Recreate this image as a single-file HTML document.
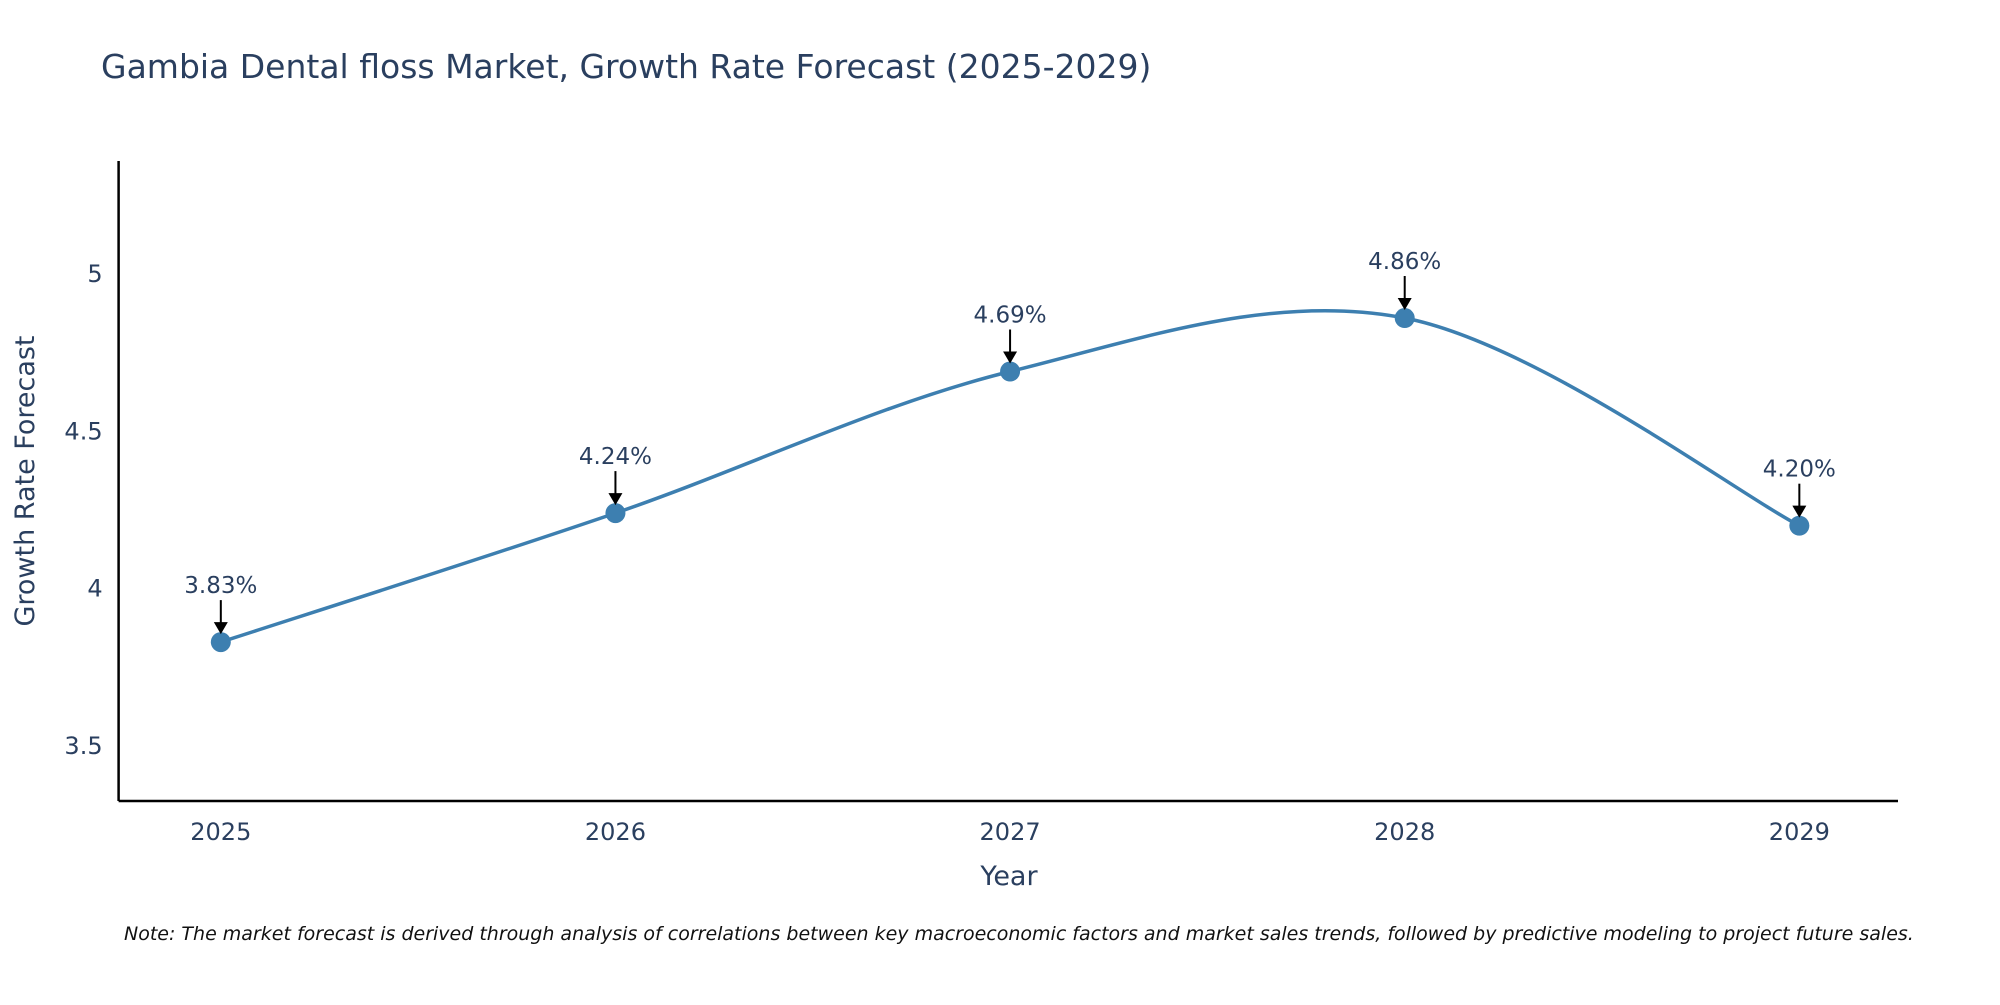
<!DOCTYPE html>
<html><head><meta charset="utf-8"><style>
body{margin:0;background:#fff;}
svg text{font-family:"DejaVu Sans","Liberation Sans",sans-serif;fill:#2a3f5f;}
</style></head><body>
<svg id="chart" width="2000" height="1000">
<text x="101" y="78" font-size="33">Gambia Dental floss Market, Growth Rate Forecast (2025-2029)</text>
<g id="axes"></g>
<g id="series"></g>
<text x="124" y="940" font-size="19" font-style="italic" style="fill:#111">Note: The market forecast is derived through analysis of correlations between key macroeconomic factors and market sales trends, followed by predictive modeling to project future sales.</text>
<text transform="translate(34,481) rotate(-90)" text-anchor="middle" font-size="27">Growth Rate Forecast</text>
<text x="1009" y="885" text-anchor="middle" font-size="27">Year</text>
</svg>
<script>
const years=[2025,2026,2027,2028,2029];
const values=[3.83,4.24,4.69,4.86,4.20];
const labels=["3.83%","4.24%","4.69%","4.86%","4.20%"];
const yTicks=[3.5,4,4.5,5];
const ns="http://www.w3.org/2000/svg";
const L=118.6,R=1898,T=161,B=801;
const x0=2025-0.259,x1=2029.25,y0=3.325,y1=5.359;
const X=v=>L+(v-x0)/(x1-x0)*(R-L);
const Y=v=>B-(v-y0)/(y1-y0)*(B-T);
function mk(tag,attrs,parent){const e=document.createElementNS(ns,tag);for(const k in attrs)e.setAttribute(k,attrs[k]);parent.appendChild(e);return e;}
const ax=document.getElementById('axes'),se=document.getElementById('series');
let a=mk('line',{x1:L,y1:T,x2:L,y2:B,stroke:'#000','stroke-width':2.5},ax);

a=mk('line',{x1:L,y1:B,x2:R,y2:B,stroke:'#000','stroke-width':2.5},ax);

yTicks.forEach(t=>{const e=mk('text',{x:L-16,y:Y(t)+8,'text-anchor':'end','font-size':24},ax);e.textContent=t;
});
years.forEach(t=>{const e=mk('text',{x:X(t),y:B+39,'text-anchor':'middle','font-size':24},ax);e.textContent=t;
});
const P=years.map((y,i)=>[X(y),Y(values[i])]);
let d='M'+P[0][0]+','+P[0][1];
for(let i=0;i<P.length-1;i++){const p0=P[i-1]||P[i],p1=P[i],p2=P[i+1],p3=P[i+2]||P[i+1];
const c1=[p1[0]+(p2[0]-p0[0])/6,p1[1]+(p2[1]-p0[1])/6],c2=[p2[0]-(p3[0]-p1[0])/6,p2[1]-(p3[1]-p1[1])/6];
d+=` C${c1[0]},${c1[1]} ${c2[0]},${c2[1]} ${p2[0]},${p2[1]}`;}
const ln=mk('path',{d:d,fill:'none',stroke:'#3d7fb0','stroke-width':3.5},se);

P.forEach((p,i)=>{const c=mk('circle',{cx:p[0],cy:p[1],r:10,fill:'#3d7fb0'},se);

const l=mk('line',{x1:p[0],y1:p[1]-42,x2:p[0],y2:p[1]-14,stroke:'#000','stroke-width':2},se);

const h=mk('polygon',{points:`${p[0]-7},${p[1]-20} ${p[0]+7},${p[1]-20} ${p[0]},${p[1]-8}`,fill:'#000'},se);

const t=mk('text',{x:p[0],y:p[1]-49,'text-anchor':'middle','font-size':23},se);t.textContent=labels[i];
});
</script>
</body></html>
